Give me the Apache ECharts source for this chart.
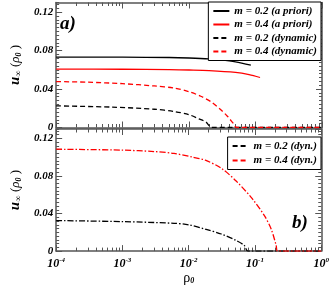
<!DOCTYPE html>
<html>
<head>
<meta charset="utf-8">
<script src="https://cdn.jsdelivr.net/npm/echarts@6/dist/echarts.min.js"></script>
<style>html,body{margin:0;padding:0;background:#fff}#c{width:332px;height:286px}</style>
</head>
<body>
<div id="c"></div>
<script>
// ---- data (rho0, u_inf) ----
const topNames = ['m = 0.2 (a priori)', 'm = 0.4 (a priori)', 'm = 0.2 (dynamic)', 'm = 0.4 (dynamic)'];
const botNames = ['m = 0.2 (dyn.)', 'm = 0.4 (dyn.)'];

const rhoA02 = [1e-4, 1e-3, 5e-3, 1e-2, 2e-2, 3e-2, 5e-2, 8.5e-2];
const uA02   = [0.0732, 0.0731, 0.0728, 0.0723, 0.0714, 0.0703, 0.0682, 0.0648];

const rhoA04 = [1e-4, 1e-3, 5e-3, 1e-2, 2e-2, 5e-2, 8e-2, 1.17e-1];
const uA04   = [0.0607, 0.0606, 0.0602, 0.0598, 0.0592, 0.0573, 0.0550, 0.0520];

const rhoD02 = [1e-4, 7e-4, 3e-3, 6e-3, 1e-2, 1.4e-2, 1.8e-2, 2.2e-2, 1];
const uD02   = [0.0225, 0.0212, 0.0190, 0.0166, 0.0133, 0.0090, 0.0056, 0, 0];

const rhoD04 = [1e-4, 3e-4, 1e-3, 3e-3, 6e-3, 1e-2, 1.5e-2, 2.2e-2, 3e-2, 3.8e-2, 4.6e-2, 5.2e-2, 1];
const uD04   = [0.0478, 0.0471, 0.0456, 0.0432, 0.0410, 0.0372, 0.0325, 0.0262, 0.0185, 0.0115, 0.0045, 0, 0];

const rhoB02 = [1e-4, 1e-3, 6e-3, 1e-2, 1.78e-2, 3.1e-2, 5.2e-2, 6.9e-2, 7.8e-2, 1];
const uB02   = [0.0325, 0.0314, 0.0296, 0.0280, 0.0233, 0.0182, 0.0113, 0.0060, 0, 0];

const rhoB04 = [1e-4, 1e-3, 3e-3, 6e-3, 1.15e-2, 1.78e-2, 3.1e-2, 5.2e-2, 9.1e-2, 1.41e-1, 1.76e-1, 2.09e-1, 2.2e-1, 1];
const uB04   = [0.1085, 0.1075, 0.1060, 0.1040, 0.1000, 0.0968, 0.0882, 0.0746, 0.0558, 0.0369, 0.0233, 0.0060, 0, 0];

const yTicks = [0, 0.04, 0.08, 0.12];
const xTicks = [1e-4, 1e-3, 1e-2, 1e-1, 1];

const pairs = (xs, ys) => xs.map((x, i) => [x, ys[i]]);

// ---- styles ----
const FONT = 'Liberation Serif';
const AX = '#555';
const LW = 1.3;

function xAxes(grid, showLabels) {
  return [
    {
      type: 'log', gridIndex: grid, min: 1e-4, max: 1, logBase: 10, position: 'bottom',
      axisLine: { show: true, onZero: false, lineStyle: { color: AX, width: 1.5 } },
      axisTick: { inside: true, length: 6, lineStyle: { color: AX, width: 1 } },
      minorTick: { show: true, splitNumber: 9, length: 3.5, lineStyle: { color: AX, width: 1 } },
      splitLine: { show: false }, minorSplitLine: { show: false },
      axisLabel: {
        show: showLabels, margin: 6,
        formatter: v => '{b|10}{s|' + Math.round(Math.log10(v)) + '}',
        rich: {
          b: { fontFamily: FONT, fontWeight: 'bold', fontStyle: 'italic', fontSize: 12, color: '#000' },
          s: { fontFamily: FONT, fontWeight: 'bold', fontStyle: 'italic', fontSize: 7, color: '#000', verticalAlign: 'top', padding: [0, 0, 7, 0] }
        }
      },
      name: showLabels ? '{r|ρ}{z|0}' : '', nameLocation: 'middle', nameGap: 18,
      nameTextStyle: {
        rich: {
          r: { fontFamily: FONT, fontSize: 14, color: '#000' },
          z: { fontFamily: FONT, fontWeight: 'bold', fontStyle: 'italic', fontSize: 8, color: '#000', padding: [6, 0, 0, 0] }
        }
      }
    },
    {
      type: 'log', gridIndex: grid, min: 1e-4, max: 1, logBase: 10, position: 'top',
      axisLine: { show: true, onZero: false, lineStyle: { color: AX, width: 1.5 } },
      axisTick: { inside: true, length: 6, lineStyle: { color: AX, width: 1 } },
      minorTick: { show: true, splitNumber: 9, length: 3.5, lineStyle: { color: AX, width: 1 } },
      splitLine: { show: false }, axisLabel: { show: false }
    }
  ];
}

function yAxes(grid, withName) {
  const common = { type: 'value', gridIndex: grid, min: 0, max: 0.13, splitLine: { show: false } };
  return [
    Object.assign({}, common, {
      position: 'left', interval: 0.04,
      axisLine: { show: true, onZero: false, lineStyle: { color: AX, width: 1.5 } },
      axisTick: { show: true, inside: true, length: 6, lineStyle: { color: AX, width: 1 } },
      axisLabel: {
        margin: 3, showMaxLabel: false,
        formatter: v => (yTicks.some(t => Math.abs(t - v) < 1e-9) ? (v === 0 ? '0' : v.toFixed(2)) : ''),
        fontFamily: FONT, fontWeight: 'bold', fontStyle: 'italic', fontSize: 11, color: '#000'
      },
      name: withName ? '{u|u}{i|∞}{p| (}{r|ρ}{z|0}{p| )}' : '',
      nameLocation: 'middle', nameGap: 25, nameRotate: 90,
      nameTextStyle: {
        rich: {
          u: { fontFamily: FONT, fontWeight: 'bold', fontStyle: 'italic', fontSize: 15, color: '#000' },
          i: { fontFamily: FONT, fontWeight: 'bold', fontSize: 9, color: '#000', padding: [6, 0, 0, 0] },
          p: { fontFamily: FONT, fontSize: 13, color: '#000' },
          r: { fontFamily: FONT, fontStyle: 'italic', fontSize: 13, color: '#000' },
          z: { fontFamily: FONT, fontWeight: 'bold', fontStyle: 'italic', fontSize: 8, color: '#000', padding: [6, 0, 0, 0] }
        }
      }
    }),
    Object.assign({}, common, {
      position: 'left', interval: 0.004,
      axisLine: { show: false }, axisLabel: { show: false },
      axisTick: { show: true, inside: true, length: 3, lineStyle: { color: AX, width: 1 } }
    }),
    Object.assign({}, common, {
      position: 'right', interval: 0.04,
      axisLine: { show: true, onZero: false, lineStyle: { color: AX, width: 1.5 } },
      axisLabel: { show: false },
      axisTick: { show: true, inside: true, length: 6, lineStyle: { color: AX, width: 1 } }
    }),
    Object.assign({}, common, {
      position: 'right', interval: 0.004,
      axisLine: { show: false }, axisLabel: { show: false },
      axisTick: { show: true, inside: true, length: 3, lineStyle: { color: AX, width: 1 } }
    })
  ];
}

function line(name, data, color, type, xi, yi) {
  return {
    name, type: 'line', data, xAxisIndex: xi, yAxisIndex: yi,
    showSymbol: false, symbol: 'none', smooth: 0.3, animation: false, silent: true,
    lineStyle: { color, width: LW, type }, itemStyle: { color }
  };
}

const legendText = { fontFamily: FONT, fontWeight: 'bold', fontStyle: 'italic', fontSize: 11, color: '#000', lineHeight: 12 };
const legendCommon = {
  orient: 'vertical', right: 11, itemWidth: 16, itemHeight: 10, itemGap: 2.5,
  padding: [3, 4, 3, 4], borderColor: '#000', borderWidth: 1, backgroundColor: '#fff',
  borderRadius: 0, textStyle: legendText, selectedMode: false,
  itemStyle: { opacity: 0 }
};

const option = {
  animation: false,
  grid: [
    { left: 41, right: 10, top: 2.5, height: 125 },
    { left: 41, right: 10, top: 129, height: 126.5 }
  ],
  xAxis: [...xAxes(0, false), ...xAxes(1, true)],
  yAxis: [...yAxes(0, true), ...yAxes(1, true)],
  legend: [
    Object.assign({}, legendCommon, {
      top: 2, itemGap: 1.5,
      data: topNames.map(n => ({ name: n }))
    }),
    Object.assign({}, legendCommon, {
      top: 137,
      data: botNames.map(n => ({ name: n, lineStyle: { type: [5, 3] } }))
    })
  ],
  series: [
    line(topNames[0], pairs(rhoA02, uA02), '#000', 'solid', 0, 0),
    line(topNames[1], pairs(rhoA04, uA04), '#ff0000', 'solid', 0, 0),
    line(topNames[2], pairs(rhoD02, uD02), '#000', [5, 3], 0, 0),
    line(topNames[3], pairs(rhoD04, uD04), '#ff0000', [5, 3], 0, 0),
    line(botNames[0], pairs(rhoB02, uB02), '#000', [6, 2, 1.5, 2], 2, 4),
    line(botNames[1], pairs(rhoB04, uB04), '#ff0000', [6, 2, 1.5, 2], 2, 4)
  ],
  graphic: [
    { type: 'text', left: 60, top: 15, style: { text: 'a)', fontFamily: FONT, fontWeight: 'bold', fontStyle: 'italic', fontSize: 19, fill: '#000' } },
    { type: 'text', left: 292, top: 214, style: { text: 'b)', fontFamily: FONT, fontWeight: 'bold', fontStyle: 'italic', fontSize: 19, fill: '#000' } }
  ]
};

const chart = echarts.init(document.getElementById('c'), null, { renderer: 'canvas' });
chart.setOption(option);
</script>
</body>
</html>
